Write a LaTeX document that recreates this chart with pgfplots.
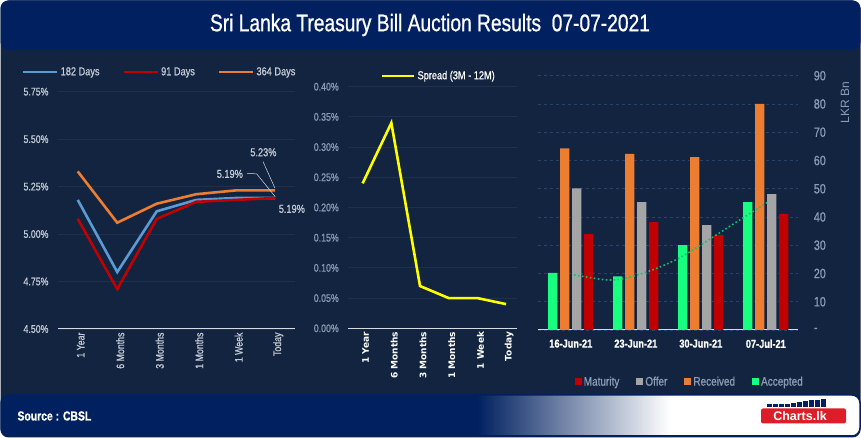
\documentclass[border=0pt]{standalone}
\usepackage{fontspec}
\setmainfont{Liberation Sans}
\newfontfamily\cond{Liberation Sans}[FakeStretch=0.8,FakeBold=0.8]
\newfontfamily\dvs{DejaVu Sans}
\usepackage{pgfplots}
\pgfplotsset{compat=1.18}
\definecolor{bg}{RGB}{18,36,63}
\definecolor{navy}{RGB}{0,32,96}
\definecolor{lgray}{RGB}{196,202,212}
\definecolor{bgray}{RGB}{140,156,182}
\definecolor{gridc}{RGB}{32,48,74}
\definecolor{gridr}{RGB}{40,66,110}
\definecolor{axisc}{RGB}{215,218,224}
\definecolor{c182}{RGB}{91,155,213}
\definecolor{c91}{RGB}{192,0,0}
\definecolor{c364}{RGB}{237,125,49}
\definecolor{cyel}{RGB}{255,255,0}
\definecolor{cacc}{RGB}{24,255,128}
\definecolor{coff}{RGB}{165,165,165}
\definecolor{ctrend}{RGB}{20,190,110}
\definecolor{logored}{RGB}{220,30,40}
\newcommand\fs[1]{\fontsize{#1}{#1}\selectfont}
\pgfplotsset{panel/.style={scale only axis, major tick length=0pt, tick style={draw=none},
  axis x line*=bottom, axis y line*=left,
  x axis line style={-, draw=axisc, line width=1pt},
  y axis line style={draw=none}}}
\begin{document}
\begin{tikzpicture}[x=1pt,y=1pt]
\fill[white] (0,0) rectangle (861,438);
\fill[bg, rounded corners=8pt] (0.5,0.5) rectangle (860.5,437.5);
\fill[navy, rounded corners=8pt] (0.5,388) rectangle (860.5,437.5);
\node[white] at (430,413) {\cond\fs{24}Sri Lanka Treasury Bill Auction Results\ \ 07-07-2021};
% footer
\begin{scope}
\clip[rounded corners=8pt] (1,2) rectangle (860,43);
\fill[navy] (1,2) rectangle (860,43);
\shade[left color=navy, right color=white] (477,2) rectangle (670,43);
\fill[white] (669.5,2) rectangle (860,43);
\end{scope}
\draw[navy, line width=1.5pt, rounded corners=8pt] (1,2) rectangle (860,43);
\node[anchor=west, white] at (14,22) {\cond\bfseries\fs{13}Source : CBSL};
\fill[logored, rounded corners=2pt] (761,14.5) rectangle (846,29.5);
\node[white] at (800,22) {\bfseries\fs{12.5}Charts.lk};
\foreach \xx/\hh in {767/3,773/3,779/3,785/3,791/4,797/5,803/6,809/6.5,815/7,821/7.5}
  \fill[navy] (\xx,31) rectangle (\xx+4.5,31+\hh);
% ---------------- left panel
\begin{axis}[panel, at={(58pt,109pt)}, anchor=south west, width=237pt, height=237.3pt,
  clip=false,
  xmin=-0.5, xmax=5.5, ymin=4.5, ymax=5.75,
  xtick={0,1,2,3,4,5}, xticklabels={1 Year,6 Months,3 Months,1 Months,1 Week,Today},
  ytick={4.5,4.75,5,5.25,5.5,5.75},
  yticklabels={4.50\%,4.75\%,5.00\%,5.25\%,5.50\%,5.75\%},
  ymajorgrids, grid style={gridc, line width=0.8pt},
  xticklabel style={rotate=90, anchor=east, font={\cond\fs{11}}, text=lgray, yshift=-3pt},
  yticklabel style={font={\cond\fs{11}}, text=lgray, xshift=-6pt},
  legend style={at={(axis description cs:-0.165,1.083)}, anchor=west, draw=none, fill=none,
    legend columns=3, font={\cond\fs{11.5}}, text=lgray,
    /tikz/every even column/.append style={column sep=21pt}},
  legend image code/.code={\draw[#1,line width=2.6pt] (0pt,0pt) -- (34pt,0pt);},
]
\addplot[c182, line width=2.6pt] coordinates {(0,5.18)(1,4.80)(2,5.12)(3,5.18)(4,5.19)(5,5.19)};
\addlegendentry{182 Days}
\addplot[c91, line width=2.6pt] coordinates {(0,5.08)(1,4.71)(2,5.08)(3,5.17)(4,5.18)(5,5.19)};
\addlegendentry{91 Days}
\addplot[c364, line width=2.6pt] coordinates {(0,5.33)(1,5.06)(2,5.16)(3,5.21)(4,5.23)(5,5.23)};
\addlegendentry{364 Days}
\node[text=lgray, font={\cond\fs{11.5}}] at (axis cs:4.70,5.431) {5.23\%};
\draw[lgray!70, line width=0.5pt] (axis cs:4.69,5.382) -- (axis cs:4.99,5.243);
\node[text=lgray, font={\cond\fs{11.5}}] at (axis cs:3.85,5.317) {5.19\%};
\draw[lgray!70, line width=0.5pt] (axis cs:4.29,5.320) -- (axis cs:4.53,5.317) -- (axis cs:5.0,5.197);
\node[text=lgray, font={\cond\fs{11.5}}] at (axis cs:5.42,5.133) {5.19\%};
\end{axis}
% ---------------- middle panel
\begin{axis}[panel, at={(348.3pt,109.7pt)}, anchor=south west, width=168.4pt, height=241.6pt,
  xmin=-0.5, xmax=5.37, ymin=0, ymax=0.4,
  xtick={0,1,2,3,4,5}, xticklabels={1 Year,6 Months,3 Months,1 Months,1 Week,Today},
  ytick={0,0.05,0.1,0.15,0.2,0.25,0.3,0.35,0.4},
  yticklabels={0.00\%,0.05\%,0.10\%,0.15\%,0.20\%,0.25\%,0.30\%,0.35\%,0.40\%},
  ymajorgrids, grid style={gridc, line width=0.8pt},
  xticklabel style={rotate=90, anchor=east, font={\dvs\bfseries\fs{9}}, text=white, yshift=-3pt},
  yticklabel style={font={\cond\fs{11}}, text=bgray, xshift=-6pt},
  legend style={at={(axis description cs:0.175,1.045)}, anchor=west, draw=none, fill=none,
    font={\cond\fs{11.5}}, text=white},
  legend image code/.code={\draw[#1,line width=2.6pt] (0pt,0pt) -- (32pt,0pt);},
]
\addplot[cyel, line width=2.6pt] coordinates {(0,0.24)(1,0.34)(2,0.07)(3,0.05)(4,0.05)(5,0.04)};
\addlegendentry{Spread (3M - 12M)}
\end{axis}
% ---------------- right panel
\begin{axis}[panel, at={(538.3pt,108pt)}, anchor=south west, width=260pt, height=254.3pt,
  axis y line*=right, clip=false,
  xmin=-0.5, xmax=3.5, ymin=0, ymax=90,
  xtick={0,1,2,3}, xticklabels={16-Jun-21,23-Jun-21,30-Jun-21,07-Jul-21},
  ytick={0,10,20,30,40,50,60,70,80,90},
  yticklabels={-,10,20,30,40,50,60,70,80,90},
  ymajorgrids, grid style={gridr, dashed, line width=0.6pt},
  xticklabel style={font={\cond\bfseries\fs{11.5}}, text=white, yshift=-6pt},
  yticklabel style={font={\cond\fs{13.5}}, text=bgray, anchor=west, xshift=12pt},
  legend style={at={(axis description cs:0.128,-0.204)}, anchor=west, draw=none, fill=none,
    legend columns=4, font={\cond\fs{12.5}}, text=bgray,
    /tikz/every even column/.append style={column sep=15pt}},
  legend image code/.code={\fill[#1] (0pt,-3.5pt) rectangle (7pt,3.5pt);},
  reverse legend,
]
\addplot[ybar, bar width=9.3pt, bar shift=-18pt, fill=cacc, draw=none] coordinates {(0,20.2)(1,19.0)(2,30.0)(3,45.3)};
\addlegendentry{Accepted}
\addplot[ybar, bar width=9.3pt, bar shift=-6pt, fill=c364, draw=none] coordinates {(0,64.3)(1,62.3)(2,61.2)(3,80.0)};
\addlegendentry{Received}
\addplot[ybar, bar width=9.3pt, bar shift=6pt, fill=coff, draw=none] coordinates {(0,50.1)(1,45.3)(2,37.1)(3,48.1)};
\addlegendentry{Offer}
\addplot[ybar, bar width=9.3pt, bar shift=18pt, fill=c91, draw=none] coordinates {(0,34.0)(1,38.2)(2,33.6)(3,41.0)};
\addlegendentry{Maturity}
\addplot[ctrend, line width=1.6pt, dash pattern=on 1.6pt off 2.4pt, smooth, forget plot]
  coordinates {(0.05,19.5)(0.56,17.7)(0.85,18.4)(1.25,21.2)(1.62,24.9)(1.91,28.8)(2.25,33.8)(2.61,39.1)(3.02,45.1)};
\node[rotate=90, text=bgray, font=\fs{12}, anchor=center] at (axis description cs:1.18,0.895) {LKR Bn};
\end{axis}
\end{tikzpicture}
\end{document}
